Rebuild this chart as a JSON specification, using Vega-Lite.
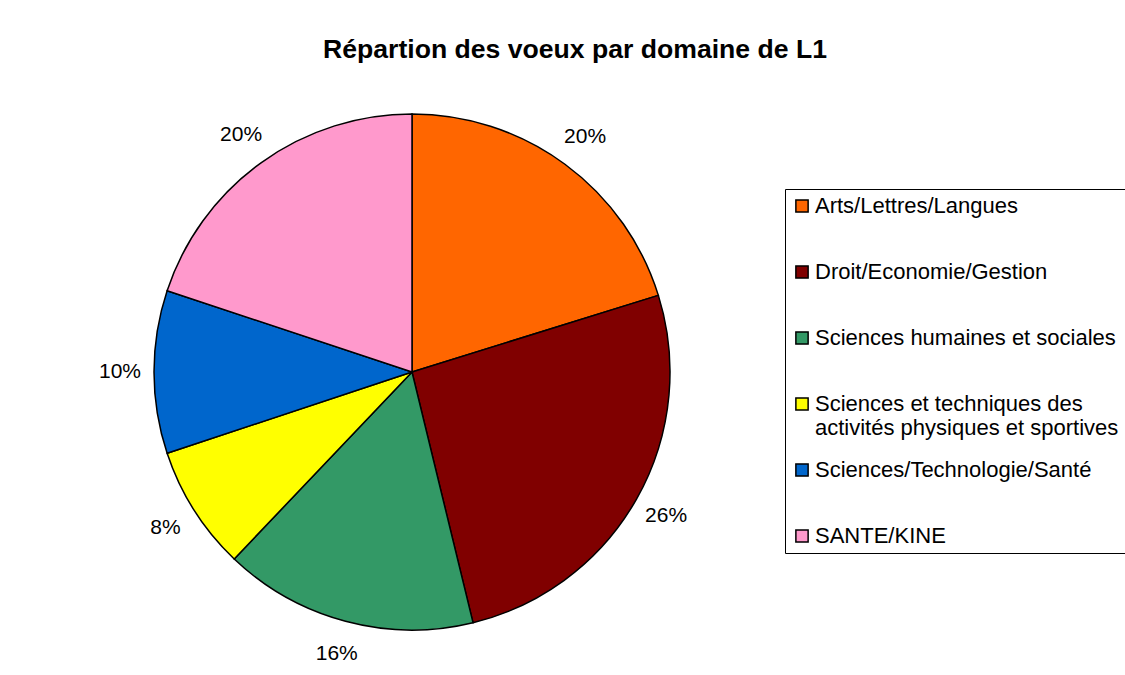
{
  "$schema": "https://vega.github.io/schema/vega-lite/v6.json",
  "width": 520,
  "height": 520,
  "autosize": {"type": "none"},
  "padding": {"left": 152, "top": 112, "right": 453, "bottom": 43},
  "background": "white",
  "config": {"view": {"stroke": null}, "font": "Liberation Sans"},
  "title": {
    "text": "Répartion des voeux par domaine de L1",
    "font": "Liberation Sans",
    "fontSize": 26.6,
    "fontWeight": "bold",
    "color": "black",
    "anchor": "middle",
    "dx": 163,
    "offset": 47
  },
  "data": {
    "values": [
      {"domaine": "Arts/Lettres/Langues", "part": 0.202, "ordre": 1},
      {"domaine": "Droit/Economie/Gestion", "part": 0.260, "ordre": 2},
      {"domaine": "Sciences humaines et sociales", "part": 0.159, "ordre": 3},
      {"domaine": "Sciences et techniques des activités physiques et sportives", "part": 0.078, "ordre": 4},
      {"domaine": "Sciences/Technologie/Santé", "part": 0.102, "ordre": 5},
      {"domaine": "SANTE/KINE", "part": 0.199, "ordre": 6}
    ]
  },
  "encoding": {
    "theta": {"field": "part", "type": "quantitative", "stack": true},
    "order": {"field": "ordre", "type": "quantitative"}
  },
  "layer": [
    {
      "mark": {"type": "arc", "outerRadius": 258, "stroke": "black", "strokeWidth": 1.5},
      "encoding": {
        "color": {
          "field": "domaine",
          "type": "nominal",
          "sort": null,
          "scale": {
            "domain": [
              "Arts/Lettres/Langues",
              "Droit/Economie/Gestion",
              "Sciences humaines et sociales",
              "Sciences et techniques des activités physiques et sportives",
              "Sciences/Technologie/Santé",
              "SANTE/KINE"
            ],
            "range": ["#FF6600", "#800000", "#339966", "#FFFF00", "#0066CC", "#FF99CC"]
          },
          "legend": {
            "orient": "none",
            "legendX": 633,
            "legendY": 77,
            "title": null,
            "symbolType": "square",
            "symbolSize": 150,
            "symbolStrokeColor": "black",
            "symbolStrokeWidth": 1.5,
            "labelFont": "Liberation Sans",
            "labelFontSize": 22,
            "labelColor": "black",
            "labelLimit": 400,
            "labelOffset": 2,
            "rowPadding": 20,
            "padding": 6,
            "gridAlign": "all",
            "strokeColor": "black",
            "fillColor": "white",
            "labelExpr": "datum.label == 'Sciences et techniques des activités physiques et sportives' ? ['Sciences et techniques des', 'activités physiques et sportives'] : datum.label"
          }
        }
      }
    },
    {
      "mark": {"type": "text", "radius": 292, "fontSize": 21, "font": "Liberation Sans", "color": "black"},
      "encoding": {
        "text": {"field": "part", "type": "quantitative", "format": ".0%"}
      }
    }
  ]
}
